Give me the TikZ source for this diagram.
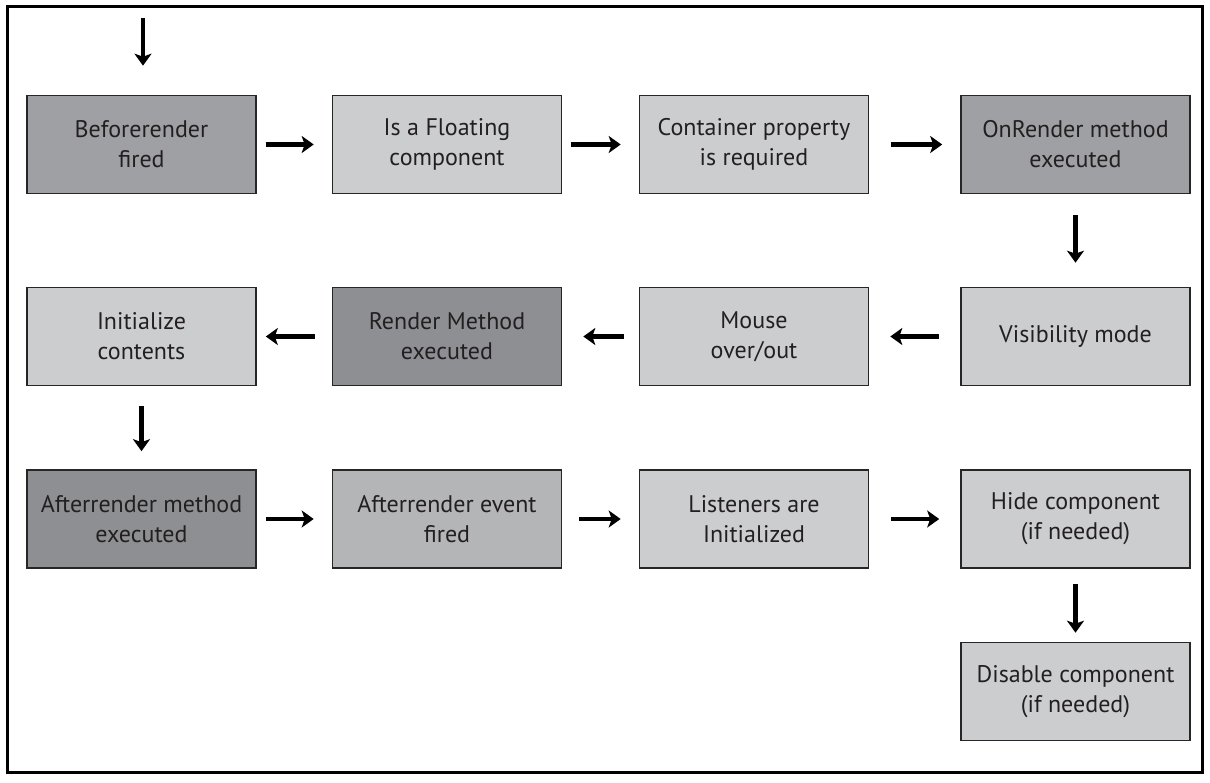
\documentclass[tikz,border=0pt]{standalone}
\usepackage{fontspec}
\setmainfont{PT Sans}
\usetikzlibrary{arrows.meta}
\usetikzlibrary{positioning}

\definecolor{boxdark}{RGB}{159,160,164}
\definecolor{boxdarker}{RGB}{142,143,147}
\definecolor{boxmid}{RGB}{180,181,183}
\definecolor{boxlight}{RGB}{204,205,207}
\definecolor{textgray}{RGB}{35,31,32}

\tikzset{
  stepbox/.style={draw=black!85, line width=1.6pt, minimum width=229pt, minimum height=98pt,
    align=center, inner sep=0pt, text=textgray, font=\fontsize{24}{30}\selectfont},
  flow/.style={line width=4.4pt, -{Stealth[length=12pt,width=17pt,inset=3pt]}},
}

\begin{document}
\begin{tikzpicture}[x=1pt,y=1pt,yscale=-1]
\useasboundingbox (0,0) rectangle (1210,783);

%Shape: frame
\draw [line width=3pt] (7,7) rectangle (1202,772);

%Row 1
\node [stepbox, fill=boxdark] (before) at (141.5,144.5) {Beforerender\\fired};
\node [stepbox, fill=boxlight] (floating) at (447,144.5) {Is a Floating\\component};
\node [stepbox, fill=boxlight] (container) at (754,144.5) {Container property\\is required};
\node [stepbox, fill=boxdark] (onrender) at (1075.5,144.5) {OnRender method\\executed};

%Row 2
\node [stepbox, fill=boxlight] (init) at (141.5,336.5) {Initialize\\contents};
\node [stepbox, fill=boxdarker] (render) at (447,336.5) {Render Method\\executed};
\node [stepbox, fill=boxlight] (mouse) at (754,336.5) {Mouse\\over/out};
\node [stepbox, fill=boxlight] (visibility) at (1075.5,336.5) {Visibility mode};

%Row 3
\node [stepbox, fill=boxdarker] (aftermethod) at (141.5,519) {Afterrender method\\executed};
\node [stepbox, fill=boxmid] (afterevent) at (447,519) {Afterrender event\\fired};
\node [stepbox, fill=boxlight] (listeners) at (754,519) {Listeners are\\Initialized};
\node [stepbox, fill=boxlight] (hide) at (1075.5,519) {Hide component\\(if needed)};

%Row 4
\node [stepbox, fill=boxlight] (disable) at (1075.5,691.5) {Disable component\\(if needed)};

%Start point
\coordinate (start) at (143,18);

%Arrows
\draw [flow, shorten >=29pt] (start) -- (start |- before.north);
\draw [flow, shorten <=9pt, shorten >=18pt] (before) -- (floating);
\draw [flow, shorten <=9pt, shorten >=18pt] (floating) -- (container);
\draw [flow, shorten <=22pt, shorten >=18pt] (container) -- (onrender);
\draw [flow, shorten <=21pt, shorten >=24pt] (onrender) -- (visibility);
\draw [flow, shorten <=21pt, shorten >=21pt] (visibility) -- (mouse);
\draw [flow, shorten <=15pt, shorten >=21pt] (mouse) -- (render);
\draw [flow, shorten <=17pt, shorten >=9pt] (render) -- (init);
\draw [flow, shorten <=20pt, shorten >=18pt] (init) -- (aftermethod);
\draw [flow, shorten <=9pt, shorten >=18pt] (aftermethod) -- (afterevent);
\draw [flow, shorten <=17pt, shorten >=18pt] (afterevent) -- (listeners);
\draw [flow, shorten <=22pt, shorten >=21pt] (listeners) -- (hide);
\draw [flow, shorten <=15pt, shorten >=9pt] (hide) -- (disable);

\end{tikzpicture}
\end{document}
